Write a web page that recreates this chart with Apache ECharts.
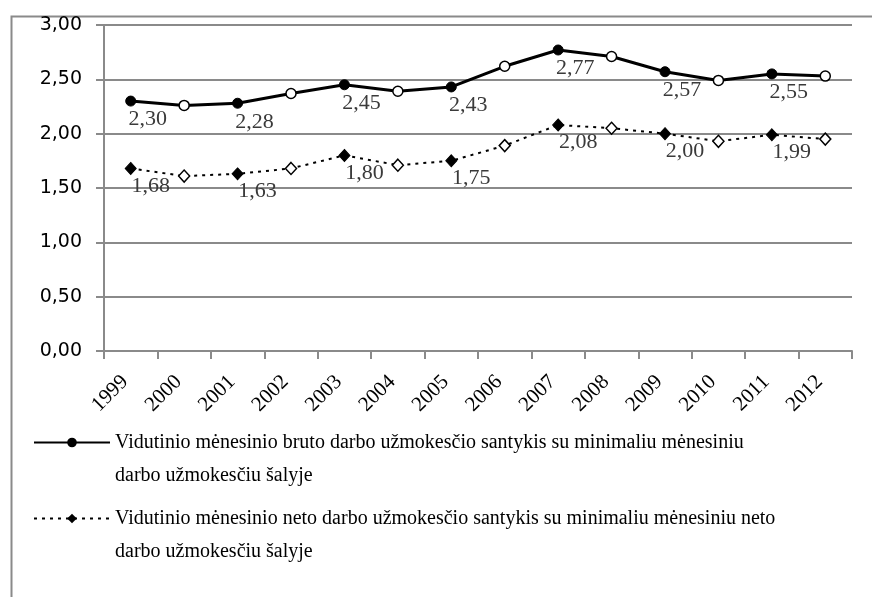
<!DOCTYPE html>
<html>
<head>
<meta charset="utf-8">
<script src="https://cdn.jsdelivr.net/npm/echarts@6/dist/echarts.min.js"></script>
<style>html,body{margin:0;padding:0;background:#fff}#c{width:872px;height:597px}</style>
</head>
<body>
<div id="c"></div>
<script>
const years = ['1999','2000','2001','2002','2003','2004','2005','2006','2007','2008','2009','2010','2011','2012'];
const brutoValues = [2.30, 2.26, 2.28, 2.37, 2.45, 2.39, 2.43, 2.62, 2.77, 2.71, 2.57, 2.49, 2.55, 2.53];
const netoValues = [1.68, 1.61, 1.63, 1.68, 1.80, 1.71, 1.75, 1.89, 2.08, 2.05, 2.00, 1.93, 1.99, 1.95];
const yTicks = [0, 0.5, 1, 1.5, 2, 2.5, 3];
const brutoName = 'Vidutinio mėnesinio bruto darbo užmokesčio santykis su minimaliu mėnesiniu darbo užmokesčiu šalyje';
const netoName = 'Vidutinio mėnesinio neto darbo užmokesčio santykis su minimaliu mėnesiniu neto darbo užmokesčiu šalyje';
const brutoLegendLines = ['Vidutinio mėnesinio bruto darbo užmokesčio santykis su minimaliu mėnesiniu', 'darbo užmokesčiu šalyje'];
const netoLegendLines = ['Vidutinio mėnesinio neto darbo užmokesčio santykis su minimaliu mėnesiniu neto', 'darbo užmokesčiu šalyje'];

const fmt = v => v.toFixed(2).replace('.', ',');
const serif = '"Liberation Serif", "Times New Roman", serif';

function buildData(values, offsetX, dist) {
  return values.map((v, i) => {
    const filled = i % 2 === 0;
    return {
      value: v,
      itemStyle: filled ? {color: '#000', borderColor: '#000'} : {color: '#fff', borderColor: '#000', borderWidth: 1.5},
      label: {show: filled, position: 'bottom', distance: dist, offset: [offsetX, 0]}
    };
  });
}

// leading blank line keeps the legend icon level with the first text line
const legendText = lines => ' \n' + lines.join('\n');

const chart = echarts.init(document.getElementById('c'));
chart.setOption({
  animation: false,
  backgroundColor: '#fff',
  graphic: [{
    type: 'rect', left: 9, top: 14, silent: true,
    shape: {width: 880, height: 600},
    style: {fill: 'none', stroke: '#8a8a8a', lineWidth: 2}
  }],
  grid: {left: 104, right: 20, top: 25, bottom: 246},
  xAxis: {
    type: 'category', data: years, boundaryGap: true,
    axisLine: {lineStyle: {color: '#8a8a8a', width: 2}},
    axisTick: {show: true, length: 8, lineStyle: {color: '#8a8a8a', width: 2}},
    axisLabel: {rotate: 45, margin: 22, padding: [0, 8, 0, 0], color: '#000', fontFamily: serif, fontSize: 21}
  },
  yAxis: {
    type: 'value', min: 0, max: 3, interval: 0.5,
    axisLine: {show: true, lineStyle: {color: '#8a8a8a', width: 2}},
    axisTick: {show: true, length: 8, lineStyle: {color: '#8a8a8a', width: 2}},
    splitLine: {lineStyle: {color: '#8a8a8a', width: 2}},
    axisLabel: {margin: 22, color: '#000', fontFamily: '"DejaVu Sans", sans-serif', fontSize: 19,
      formatter: v => fmt(v)}
  },
  legend: [
    {
      data: [brutoName], orient: 'vertical', left: 33, top: 393, padding: 0,
      itemWidth: 76, itemHeight: 12, itemGap: 0,
      formatter: () => legendText(brutoLegendLines),
      textStyle: {fontFamily: serif, fontSize: 20, color: '#000', lineHeight: 33}
    },
    {
      data: [netoName], orient: 'vertical', left: 33, top: 469, padding: 0,
      itemWidth: 76, itemHeight: 12, itemGap: 0,
      formatter: () => legendText(netoLegendLines),
      textStyle: {fontFamily: serif, fontSize: 20, color: '#000', lineHeight: 33}
    }
  ],
  series: [
    {
      name: brutoName, type: 'line', data: buildData(brutoValues, 17, 2),
      symbol: 'circle', symbolSize: 10, showAllSymbol: true,
      lineStyle: {color: '#000', width: 3},
      itemStyle: {color: '#000', borderColor: '#000'},
      label: {color: '#3a3a3a', fontFamily: serif, fontSize: 22, formatter: p => fmt(p.value)},
      z: 3
    },
    {
      name: netoName, type: 'line', data: buildData(netoValues, 20, 0),
      symbol: 'diamond', symbolSize: [11, 12], showAllSymbol: true,
      lineStyle: {color: '#000', width: 2, type: [3, 5]},
      itemStyle: {color: '#000', borderColor: '#000'},
      label: {color: '#3a3a3a', fontFamily: serif, fontSize: 22, formatter: p => fmt(p.value)},
      z: 3
    }
  ]
});
</script>
</body>
</html>
